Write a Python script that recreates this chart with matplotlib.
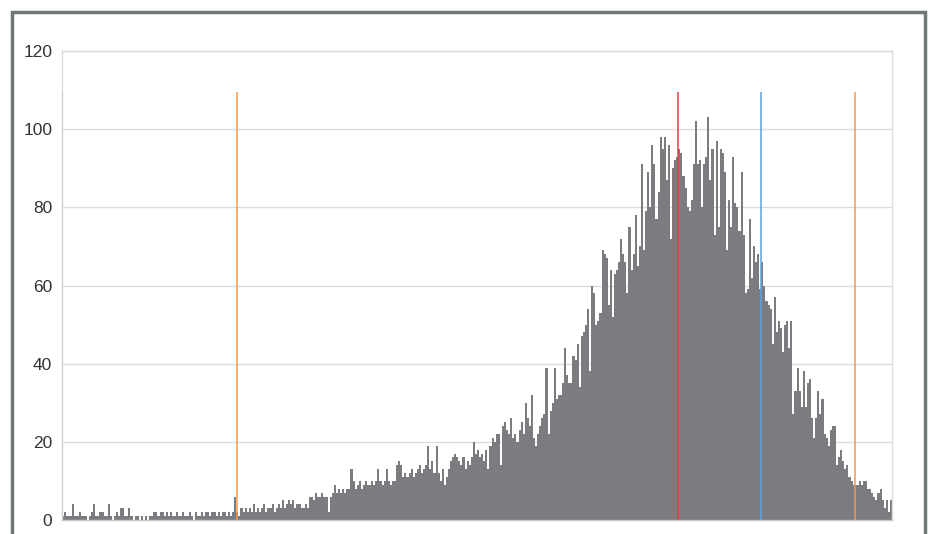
import matplotlib
matplotlib.use("Agg")
import matplotlib.pyplot as plt
from matplotlib.patches import Rectangle

# histogram counts (400 bins)
counts = [
    1,2,1,1,1,4,1,1,2,1,
    1,1,0,1,2,4,1,1,2,2,
    1,1,4,1,0,1,2,1,3,3,
    1,1,3,1,0,1,1,0,1,0,
    1,0,1,1,2,2,1,2,2,1,
    2,1,2,1,1,2,1,1,2,1,
    1,2,1,0,2,1,1,2,1,2,
    2,1,2,2,1,2,1,2,2,1,
    2,1,2,6,2,1,3,2,3,2,
    3,2,4,2,3,2,3,4,2,3,
    3,4,2,3,4,3,5,3,4,5,
    4,5,3,4,4,3,3,4,3,6,
    6,5,7,6,6,7,6,6,2,6,
    7,9,7,8,7,8,7,8,8,13,
    10,8,9,10,8,9,10,9,9,10,
    9,10,13,10,9,10,13,10,9,10,
    10,14,15,14,11,12,11,12,13,11,
    12,13,14,12,13,14,19,13,15,12,
    19,12,10,13,9,11,13,15,16,17,
    16,15,14,16,13,15,14,16,20,17,
    18,16,17,15,18,13,19,21,20,22,
    22,14,24,25,23,22,26,21,22,20,
    23,25,22,30,26,24,32,21,19,22,
    24,26,27,39,22,28,30,39,31,32,
    32,35,44,37,35,35,42,41,45,34,
    47,48,50,54,38,60,58,50,51,53,
    69,68,67,55,64,52,63,64,66,72,
    68,66,58,75,64,68,78,65,70,91,
    69,79,89,80,96,91,77,84,98,95,
    98,87,96,72,90,92,93,95,94,88,
    85,80,79,82,91,102,91,92,80,91,
    93,103,87,95,73,97,75,95,94,89,
    69,82,75,93,81,80,74,89,73,58,
    59,77,62,70,66,68,59,66,60,56,
    55,54,45,57,48,51,49,43,50,51,
    44,51,27,33,39,33,29,38,29,35,
    36,26,21,26,33,27,31,22,21,19,
    23,24,24,14,16,18,15,13,14,11,
    10,9,9,9,10,9,10,10,8,8,
    7,6,5,7,8,5,3,5,2,5,
]

# marker lines (positions in bin units) and their colours
marker_pos = [0.0, 84.2, 297.0, 336.9, 382.2]
marker_colors = ["#c8c8c8", "#f39a4f", "#d9473f", "#5fa2dc", "#f39a4f"]
marker_top = 109.5

y_ticks = [0, 20, 40, 60, 80, 100, 120]

plt.rcParams["font.family"] = ["Liberation Sans", "DejaVu Sans"]

W, H = 932, 534
fig = plt.figure(figsize=(W / 100, H / 100), dpi=100)
ax = fig.add_axes([62 / W, (H - 520) / H, (892 - 62) / W, (520 - 51) / H])

n = len(counts)
ax.bar(range(n), counts, width=1.0, align="edge", color="#7b7b80",
       linewidth=0, antialiased=False, zorder=2)

for p, c in zip(marker_pos, marker_colors):
    ax.plot([p, p], [0, marker_top], color=c, lw=1.1, zorder=3, solid_capstyle="butt")

ax.set_xlim(0, n)
ax.set_ylim(0, 120)
ax.set_yticks(y_ticks)
ax.set_yticklabels([str(v) for v in y_ticks])
ax.set_xticks([])
ax.tick_params(axis="y", length=0, pad=7, labelsize=12.5, labelcolor="#333333")
ax.grid(axis="y", color="#dcdcdc", lw=1.0, zorder=0)
ax.set_axisbelow(True)
for side, sp in ax.spines.items():
    sp.set_color("#dcdcdc")
    sp.set_linewidth(1.0)
ax.spines["bottom"].set_color("#c8c8c8")

# outer frame
fig.patches.append(Rectangle((11.5 / W, -0.05), (925 - 11.5) / W, 1.05 - 11.5 / H,
                             transform=fig.transFigure, fill=False,
                             edgecolor="#6e7676", lw=2.5, zorder=10))

fig.savefig("out.png", dpi=100)
